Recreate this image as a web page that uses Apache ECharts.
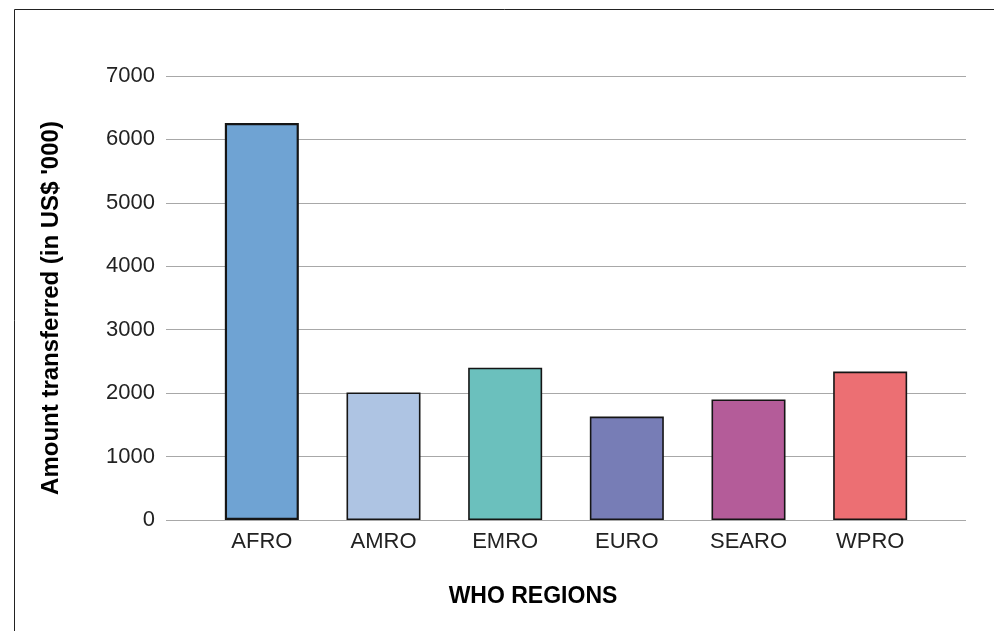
<!DOCTYPE html>
<html>
<head>
<meta charset="utf-8">
<script src="https://cdn.jsdelivr.net/npm/echarts@6/dist/echarts.min.js"></script>
<style>
  html, body { margin: 0; padding: 0; background: #fff; }
  #chart { width: 994px; height: 631px; }
</style>
</head>
<body>
<div id="chart"></div>
<script>
// data
var regions = ["AFRO", "AMRO", "EMRO", "EURO", "SEARO", "WPRO"];
var amounts = [6260, 2010, 2400, 1630, 1900, 2340];
var yTicks = [0, 1000, 2000, 3000, 4000, 5000, 6000, 7000];

// bar colours, one per region
var barColors = ["#6fa3d3", "#aec4e3", "#6bc0bd", "#777db6", "#b45c99", "#ec6f73"];

var font = "'Liberation Sans', Arial, Helvetica, sans-serif";

var chart = echarts.init(document.getElementById("chart"));

var option = {
  backgroundColor: "#fff",
  animation: false,
  grid: [
    // background grid: gridlines + y labels
    { left: 166, right: 28, top: 76, bottom: 111 },
    // bar grid, a bit narrower than the gridlines
    { left: 201, right: 63, top: 76, bottom: 111 }
  ],
  xAxis: [
    { gridIndex: 0, type: "value", show: false, min: 0, max: 1 },
    {
      gridIndex: 1,
      type: "category",
      data: regions,
      axisLine: { show: false },
      axisTick: { show: false },
      axisLabel: { margin: 11, fontSize: 22, color: "#222", fontFamily: font }
    }
  ],
  yAxis: [
    {
      gridIndex: 0,
      type: "value",
      min: yTicks[0],
      max: yTicks[yTicks.length - 1],
      interval: 1000,
      axisLine: { show: false },
      axisTick: { show: false },
      axisLabel: {
        margin: 11,
        fontSize: 22,
        color: "#222",
        fontFamily: font,
        formatter: function (v) { return String(v); }
      },
      splitLine: { lineStyle: { color: "#a8a8a8", width: 1.2 } }
    },
    {
      gridIndex: 1,
      type: "value",
      min: yTicks[0],
      max: yTicks[yTicks.length - 1],
      show: false
    }
  ],
  series: [
    {
      type: "bar",
      xAxisIndex: 1,
      yAxisIndex: 1,
      barWidth: 74,
      data: amounts.map(function (v, i) {
        return {
          value: v,
          itemStyle: {
            color: barColors[i],
            borderColor: "#151515",
            borderWidth: i === 0 ? 2.2 : 1.6
          }
        };
      })
    }
  ],
  graphic: [
    {
      type: "rect",
      shape: { x: 14.5, y: 9.5, width: 1000, height: 700 },
      style: { fill: null, stroke: "#222", lineWidth: 1 },
      silent: true
    },
    {
      type: "text",
      x: 51,
      y: 308,
      rotation: Math.PI / 2,
      style: {
        text: "Amount transferred (in US$ '000)",
        font: "bold 24px " + font,
        fill: "#000",
        textAlign: "center",
        textVerticalAlign: "middle"
      }
    },
    {
      type: "text",
      x: 533,
      y: 597,
      style: {
        text: "WHO REGIONS",
        font: "bold 23px " + font,
        fill: "#000",
        textAlign: "center",
        textVerticalAlign: "middle"
      }
    }
  ]
};

chart.setOption(option);
</script>
</body>
</html>
